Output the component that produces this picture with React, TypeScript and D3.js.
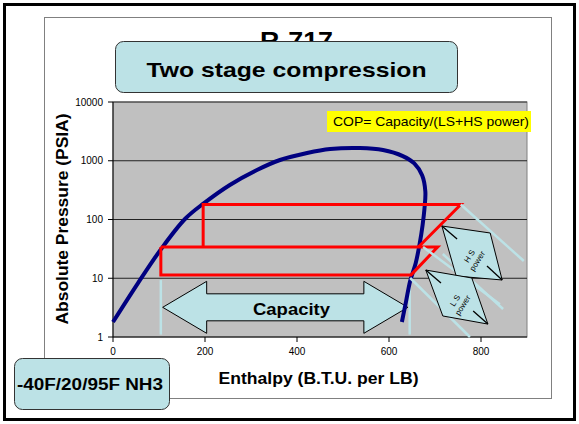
import React from "react";
import * as d3 from "d3";

// ---- data (enthalpy BTU/lb, pressure PSIA) ----
const xTicks = [0, 200, 400, 600, 800];
const yTicks = [1, 10, 100, 1000, 10000];
const yTickLabels = ["1", "10", "100", "1000", "10000"];

// saturation dome: liquid side then vapour side
const domeH = [0, 54, 104, 157, 198, 254, 313, 363, 422, 472, 537, 587, 630, 655, 672, 679, 677, 673, 667, 658, 646, 637, 628];
const domeP = [1.8, 8.2, 31, 103, 190, 387, 696, 1030, 1355, 1585, 1648, 1524, 1200, 900, 565, 300, 150, 80, 40, 18, 9, 4, 1.8];

// low stage cycle
const lowH = [104, 104, 648, 700, 706, 104];
const lowP = [34.1, 11.4, 11.4, 30.5, 34.1, 34.1];
// high stage cycle
const highH = [196, 196, 756, 664];
const highP = [34.1, 180, 180, 34.1];

// capacity arrow: enthalpy span and pressure of its axis
const capH = [108, 641];
const capP = 3.2;
const capGuideH = [104, 645];
const capGuideP = [9.3, 1.1];

// power guide lines [h1, P1, h2, P2]
const guideLines = [
  [756, 180, 893, 19.7],
  [674, 34.1, 841, 3.6],
  [717, 25.9, 848, 3.0],
  [646, 10.1, 776, 1.0],
];

// power arrows: polygon (h,P) + inner tip lines
const hsPoly = [[715, 77.5], [820, 58.9], [846, 9.34], [746, 10.9]];
const hsInner = [[715, 77.5, 748, 46.6], [846, 9.34, 813, 16.2]];
const lsPoly = [[680, 13.8], [780, 10.1], [815, 1.66], [717, 2.28]];
const lsInner = [[680, 13.8, 713, 8.3], [815, 1.66, 783, 2.77]];

const FONT = "Arial, 'Liberation Sans', sans-serif";
const CYAN = "#bce2e6";

export default function App() {
  const x = d3.scaleLinear().domain([0, 900]).range([113, 527]);
  const y = d3.scaleLog().domain([1, 10000]).range([337, 102]);

  const line = d3.line<[number, number]>().x((d) => x(d[0])).y((d) => y(d[1]));
  const smooth = d3
    .line<[number, number]>()
    .x((d) => x(d[0]))
    .y((d) => y(d[1]))
    .curve(d3.curveCatmullRom.alpha(0.5));

  const dome = domeH.map((h, i) => [h, domeP[i]] as [number, number]);
  const low = lowH.map((h, i) => [h, lowP[i]] as [number, number]);
  const high = highH.map((h, i) => [h, highP[i]] as [number, number]);

  // capacity arrow in pixel space built from scales
  const cx1 = x(capH[0]);
  const cx2 = x(capH[1]);
  const cy = y(capP);
  const headLen = 44;
  const headHalf = 26;
  const shaftHalf = 13.5;
  const capPts = [
    [cx1, cy],
    [cx1 + headLen, cy - headHalf],
    [cx1 + headLen, cy - shaftHalf],
    [cx2 - headLen, cy - shaftHalf],
    [cx2 - headLen, cy - headHalf],
    [cx2, cy],
    [cx2 - headLen, cy + headHalf],
    [cx2 - headLen, cy + shaftHalf],
    [cx1 + headLen, cy + shaftHalf],
    [cx1 + headLen, cy + headHalf],
  ];

  const polyStr = (pts: number[][]) => pts.map((p) => `${x(p[0])},${y(p[1])}`).join(" ");
  const centroid = (pts: number[][]) => {
    const px = pts.map((p) => x(p[0]));
    const py = pts.map((p) => y(p[1]));
    return [d3.mean(px)!, d3.mean(py)!];
  };
  const hsC = centroid(hsPoly);
  const lsC = centroid(lsPoly);

  return (
    <svg width={579} height={424} style={{ position: "absolute", left: 0, top: 0 }} fontFamily={FONT}>
      <rect x={0} y={0} width={579} height={424} fill="#fff" />
      {/* outer frame */}
      <rect x={4.5} y={4.5} width={570} height={415} fill="none" stroke="#000" strokeWidth={3} />
      {/* chart area */}
      <rect x={44.5} y={17.5} width={507} height={381} fill="#fff" stroke="#808080" strokeWidth={1} />

      {/* plot area */}
      <rect x={113} y={102} width={414} height={235} fill="#c0c0c0" stroke="#808080" strokeWidth={1} />
      {yTicks.slice(1, 4).map((t) => (
        <line key={t} x1={113} x2={527} y1={y(t)} y2={y(t)} stroke="#222" strokeWidth={1} />
      ))}
      <line x1={113} x2={527} y1={102} y2={102} stroke="#333" strokeWidth={1} />
      {/* axes */}
      <line x1={113} x2={113} y1={102} y2={337} stroke="#000" strokeWidth={1} />
      <line x1={113} x2={527} y1={337} y2={337} stroke="#000" strokeWidth={1} />
      {yTicks.map((t, i) => (
        <g key={t}>
          <line x1={108} x2={113} y1={y(t)} y2={y(t)} stroke="#000" />
          <text x={103} y={y(t) + 3.5} fontSize={10} textAnchor="end">
            {yTickLabels[i]}
          </text>
        </g>
      ))}
      {xTicks.map((t) => (
        <g key={t}>
          <line x1={x(t)} x2={x(t)} y1={337} y2={342} stroke="#000" />
          <text x={x(t)} y={355} fontSize={10} textAnchor="middle">
            {t}
          </text>
        </g>
      ))}

      {/* capacity guides and arrow */}
      {capGuideH.map((h) => (
        <line key={h} x1={x(h)} x2={x(h)} y1={y(capGuideP[0])} y2={y(capGuideP[1])} stroke={CYAN} strokeWidth={2.5} />
      ))}
      <polygon points={capPts.map((p) => p.join(",")).join(" ")} fill={CYAN} stroke="#000" strokeWidth={1} />
      <text x={291.5} y={315} fontSize={17} fontWeight="bold" textAnchor="middle" textLength={77} lengthAdjust="spacingAndGlyphs">
        Capacity
      </text>

      {/* saturation dome */}
      <path d={smooth(dome)!} fill="none" stroke="#000080" strokeWidth={4} />

      {/* cycles */}
      <path d={line(low)!} fill="none" stroke="#ff0000" strokeWidth={3} strokeLinejoin="miter" />
      <path d={line(high)!} fill="none" stroke="#ff0000" strokeWidth={3} strokeLinejoin="miter" />

      {/* power guides */}
      {guideLines.map((g, i) => (
        <line key={i} x1={x(g[0])} y1={y(g[1])} x2={x(g[2])} y2={y(g[3])} stroke={CYAN} strokeWidth={2.5} />
      ))}

      {/* power arrows */}
      <polygon points={polyStr(hsPoly)} fill={CYAN} stroke="#000" strokeWidth={1} />
      {hsInner.map((l, i) => (
        <line key={i} x1={x(l[0])} y1={y(l[1])} x2={x(l[2])} y2={y(l[3])} stroke="#000" strokeWidth={1.3} />
      ))}
      <polygon points={polyStr(lsPoly)} fill={CYAN} stroke="#000" strokeWidth={1} />
      {lsInner.map((l, i) => (
        <line key={i} x1={x(l[0])} y1={y(l[1])} x2={x(l[2])} y2={y(l[3])} stroke="#000" strokeWidth={1.3} />
      ))}
      <g transform={`translate(${hsC[0] + 1},${hsC[1] + 5}) rotate(-58)`}>
        <text x={0} y={-2} fontSize={8} textAnchor="middle">H S</text>
        <text x={0} y={7} fontSize={8} textAnchor="middle">power</text>
      </g>
      <g transform={`translate(${lsC[0] + 2},${lsC[1] + 6}) rotate(-58)`}>
        <text x={0} y={-2} fontSize={8} textAnchor="middle">L S</text>
        <text x={0} y={7} fontSize={8} textAnchor="middle">power</text>
      </g>

      {/* COP label */}
      <rect x={327} y={111} width={204} height={21} fill="#ffff00" />
      <text x={431} y={126} fontSize={13} textAnchor="middle" textLength={196} lengthAdjust="spacingAndGlyphs">
        COP= Capacity/(LS+HS power)
      </text>

      {/* axis titles */}
      <text transform="translate(68,219) rotate(-90)" fontSize={16} fontWeight="bold" textAnchor="middle" textLength={211} lengthAdjust="spacingAndGlyphs">
        Absolute Pressure (PSIA)
      </text>
      <text x={318.5} y={384} fontSize={16} fontWeight="bold" textAnchor="middle" textLength={200} lengthAdjust="spacingAndGlyphs">
        Enthalpy (B.T.U. per LB)
      </text>

      {/* chart title, partly hidden */}
      <text x={296.5} y={49} fontSize={24} fontWeight="bold" textAnchor="middle" textLength={73} lengthAdjust="spacingAndGlyphs">
        R-717
      </text>
      <rect x={115.5} y={41.5} width={342} height={51} rx={8} fill={CYAN} stroke="#333" strokeWidth={1} />
      <text x={286.5} y={77} fontSize={21} fontWeight="bold" textAnchor="middle" textLength={280} lengthAdjust="spacingAndGlyphs">
        Two stage compression
      </text>

      {/* condition label */}
      <rect x={14.5} y={358.5} width={155} height={51} rx={8} fill={CYAN} stroke="#333" strokeWidth={1} />
      <text x={90} y={390} fontSize={16} fontWeight="bold" textAnchor="middle" textLength={146} lengthAdjust="spacingAndGlyphs">
        -40F/20/95F NH3
      </text>
    </svg>
  );
}
